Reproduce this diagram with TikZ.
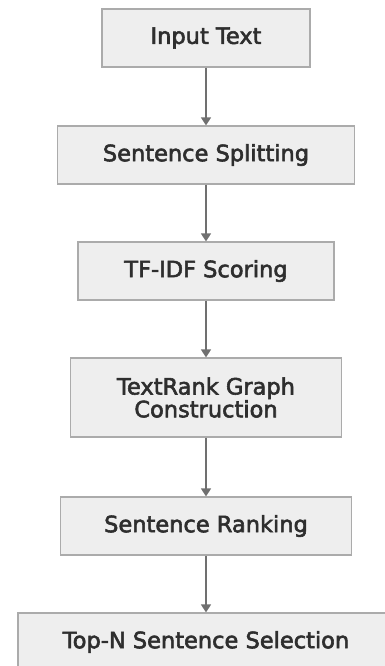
\documentclass[tikz,border=0pt]{standalone}
\usepackage{fontspec}
\setmainfont{DejaVu Sans}
\newfontfamily\boxfont{DejaVu Sans}[FakeBold=2.5]
\usetikzlibrary{arrows.meta}
\definecolor{boxfill}{HTML}{EEEEEE}
\definecolor{boxline}{HTML}{ABABAB}
\definecolor{arrowcol}{HTML}{707070}
\definecolor{txtcol}{HTML}{2E2E2E}
\tikzset{
  stepbox/.style={draw=boxline, fill=boxfill, line width=1.2pt, rectangle,
    minimum height=58pt, inner sep=0pt, text=txtcol, align=center,
    font=\boxfont\fontsize{22.5}{21.5}\selectfont},
  flow/.style={draw=arrowcol, line width=1.5pt, -{Triangle[width=10pt,length=8pt]}}
}
\begin{document}
\begin{tikzpicture}[x=1pt,y=-1pt]
\useasboundingbox (0,0) rectangle (385,666);
\clip (0,0) rectangle (385,666);
\node[stepbox, minimum width=208pt] (n1) at (206,38) {Input Text};
\node[stepbox, minimum width=297pt] (n2) at (206,155) {Sentence Splitting};
\node[stepbox, minimum width=256pt] (n3) at (206,271) {TF-IDF Scoring};
\node[stepbox, minimum width=271pt, minimum height=79pt] (n4) at (206,397.5) {TextRank Graph\\Construction};
\node[stepbox, minimum width=291pt] (n5) at (206,526) {Sentence Ranking};
\node[stepbox, minimum width=376pt] (n6) at (206,642) {Top-N Sentence Selection};
\draw[flow] (n1) -- (n2);
\draw[flow] (n2) -- (n3);
\draw[flow] (n3) -- (n4);
\draw[flow] (n4) -- (n5);
\draw[flow] (n5) -- (n6);
\end{tikzpicture}
\end{document}
